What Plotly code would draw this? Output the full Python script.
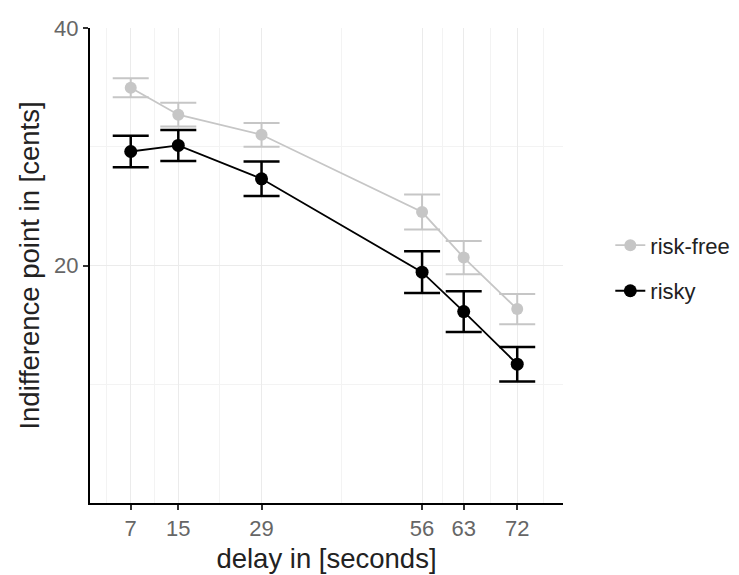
import plotly.graph_objects as go

# ---- data ----
delay = [7, 15, 29, 56, 63, 72]
risk_free = [34.97, 32.70, 31.01, 24.50, 20.67, 16.33]
risk_free_err = [0.80, 1.00, 1.00, 1.47, 1.40, 1.27]
risky = [29.60, 30.11, 27.30, 19.44, 16.12, 11.69]
risky_err = [1.33, 1.30, 1.45, 1.75, 1.72, 1.45]

x_ticks = [7, 15, 29, 56, 63, 72]
x_minor = [3, 11, 22, 42.5, 59.5, 67.5, 76.5]
y_ticks = [20, 40]
y_minor = [10, 30]

FONT = "Liberation Sans, Arial, sans-serif"
GRAY = "#c6c6c6"

fig = go.Figure()
fig.add_trace(go.Scatter(
    x=delay, y=risk_free, name="risk-free", mode="lines+markers",
    line=dict(color=GRAY, width=1.8),
    marker=dict(color=GRAY, size=12),
    error_y=dict(type="data", array=risk_free_err, color=GRAY, thickness=2, width=18),
    legendgroup="a",
))
fig.add_trace(go.Scatter(
    x=delay, y=risky, name="risky", mode="lines+markers",
    line=dict(color="black", width=1.8),
    marker=dict(color="black", size=13),
    error_y=dict(type="data", array=risky_err, color="black", thickness=2.5, width=18),
    legendgroup="b",
))

fig.update_layout(
    width=739, height=575,
    margin=dict(l=90, r=176, t=28, b=72, autoexpand=False),
    paper_bgcolor="white", plot_bgcolor="white",
    font=dict(family=FONT, size=22, color="#222222"),
    legend=dict(x=1.100, y=0.494, xanchor="left", yanchor="middle",
                font=dict(size=22, color="#222222"), tracegroupgap=14,
                bgcolor="rgba(0,0,0,0)"),
    showlegend=True,
)
fig.update_xaxes(
    range=[0.15, 79.7], tickvals=x_ticks, ticktext=[str(v) for v in x_ticks],
    showline=True, linecolor="black", linewidth=2, automargin=False,
    ticks="outside", ticklen=5, tickwidth=1.5, tickcolor="#333333",
    tickfont=dict(size=22, color="#666666"),
    showgrid=True, gridcolor="#ebebeb", gridwidth=1.2, zeroline=False,
    minor=dict(tickvals=x_minor, showgrid=True, gridcolor="#f3f3f3", gridwidth=0.8, ticks=""),
    title=dict(text="delay in [seconds]", font=dict(size=27.5, color="#222222"), standoff=8),
)
fig.update_yaxes(
    range=[0, 40], tickvals=y_ticks, ticktext=[str(v) for v in y_ticks],
    showline=True, linecolor="black", linewidth=2, automargin=False,
    ticks="outside", ticklen=5, tickwidth=1.5, tickcolor="#333333",
    tickfont=dict(size=22, color="#666666"),
    showgrid=True, gridcolor="#ebebeb", gridwidth=1.2, zeroline=False,
    minor=dict(tickvals=y_minor, showgrid=True, gridcolor="#f3f3f3", gridwidth=0.8, ticks=""),
    title=dict(text="Indifference point in [cents]", font=dict(size=27.5, color="#222222"), standoff=6),
)

fig.write_html("out.html", config={"displayModeBar": False},
               post_script="document.body.style.margin='0';")
